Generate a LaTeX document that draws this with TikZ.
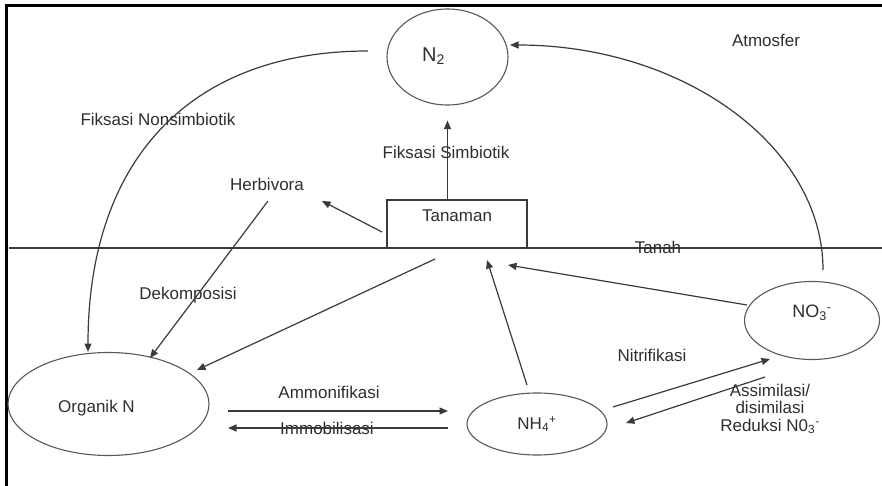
\documentclass[tikz,border=0pt]{standalone}
\usepackage{fontspec}
\setmainfont{Liberation Sans}
\usetikzlibrary{arrows.meta,shapes.geometric}
\definecolor{ln}{HTML}{3A3A3A}
\definecolor{txt}{HTML}{2E2E2E}
\tikzset{
  lbl/.style={font=\fontsize{17}{20}\selectfont, text=txt, inner sep=0pt},
  oval/.style={ellipse, draw=ln!85, line width=1.1pt, inner sep=0pt, font=\fontsize{17}{20}\selectfont, text=txt},
  stepbox/.style={rectangle, draw=ln, line width=1.1pt, inner sep=0pt, font=\fontsize{17}{20}\selectfont, text=txt},
  arr/.style={draw=ln, line width=1.2pt, -{Triangle[length=8.5pt,width=7pt]}},
  frame/.style={draw=black, line width=2.6pt},
}
\begin{document}
\begin{tikzpicture}[x=1pt,y=-1pt]
\useasboundingbox (0,0) rectangle (882,486);
% frame and ground line
\coordinate (fTL) at (6.2,5.8);
\coordinate (fTR) at (882,5.8);
\coordinate (fBL) at (6.2,486);
\draw[frame] (fTR) -- (fTL) -- (fBL);
\coordinate (gL) at (9,248);
\coordinate (gR) at (882,248);
\draw[draw=ln, line width=1.1pt] (gL) -- (gR);

% nodes
\node[oval, minimum width=121pt, minimum height=96pt,
      label={[lbl,font=\fontsize{20}{24}\selectfont,xshift=-14pt,yshift=1pt]center:N\textsubscript{2}}] (n2) at (447.5,57) {};
\node[stepbox, minimum width=140pt, minimum height=48pt,
      label={[lbl,label distance=-22pt]north:Tanaman}] (tanaman) at (457,224) {};
\node[oval, minimum width=135pt, minimum height=78pt,
      label={[lbl,font=\fontsize{18}{21}\selectfont,yshift=8pt]center:NO\textsubscript{3}\textsuperscript{-}}] (no3) at (812,320.5) {};
\node[oval, minimum width=140pt, minimum height=62pt] (nh4) at (537,424) {NH\textsubscript{4}\textsuperscript{+}};
\node[oval, minimum width=201pt, minimum height=103pt,
      label={[lbl,xshift=-12pt,yshift=-4pt]center:Organik N}] (org) at (108.5,404) {};

% labels
\node[lbl] (atm) at (766,40) {Atmosfer};
\node[lbl] (fns) at (158,119) {Fiksasi Nonsimbiotik};
\node[lbl] (fs) at (446,152) {Fiksasi Simbiotik};
\node[lbl] (herb) at (267,184) {Herbivora};
\node[lbl] (tanah) at (658,247) {Tanah};
\node[lbl] (dek) at (188,295) {Dekomposisi};
\node[lbl] (nitr) at (652,355) {Nitrifikasi};
\node[lbl] (amm) at (329,392) {Ammonifikasi};
\node[lbl] (imm) at (327,428) {Immobilisasi};
\node[lbl, align=center, font=\fontsize{17}{17.5}\selectfont] (ass) at (770,409)
  {Assimilasi/\\disimilasi\\Reduksi N0\textsubscript{3}\textsuperscript{-}};

% coordinates for free ends
\coordinate (a1s) at (382,232); \coordinate (a1e) at (322,201);
\coordinate (a2s) at (268,201); \coordinate (a2e) at (150,358);
\coordinate (a3s) at (435,259); \coordinate (a3e) at (197,370);
\coordinate (a4s) at (527,385); \coordinate (a4e) at (487,260);
\coordinate (a5s) at (747,305); \coordinate (a5e) at (508,265);
\coordinate (a6s) at (613,407); \coordinate (a6e) at (770,359);
\coordinate (a7s) at (765,377); \coordinate (a7e) at (626,423);
\coordinate (a8s) at (228,411); \coordinate (a8e) at (448,411);
\coordinate (a9s) at (448,428); \coordinate (a9e) at (228,428);
\coordinate (c1s) at (368,51);  \coordinate (c1e) at (88,352);
\coordinate (c2s) at (823,270); \coordinate (c2e) at (510,45);

% connectors
\draw[arr] (n2.south |- tanaman.north) -- ([yshift=-15pt]n2.south);
\draw[arr] (a1s) -- (a1e);
\draw[arr] (a2s) -- (a2e);
\draw[arr] (a3s) -- (a3e);
\draw[arr] (a4s) -- (a4e);
\draw[arr] (a5s) -- (a5e);
\draw[arr] (a6s) -- (a6e);
\draw[arr] (a7s) -- (a7e);
\draw[arr] (a8s) -- (a8e);
\draw[arr] (a9s) -- (a9e);
\draw[arr] (c1s) .. controls (190,51) and (88,160) .. (c1e);
\draw[arr] (c2s) .. controls (823,146) and (683,45) .. (c2e);
\end{tikzpicture}
\end{document}
